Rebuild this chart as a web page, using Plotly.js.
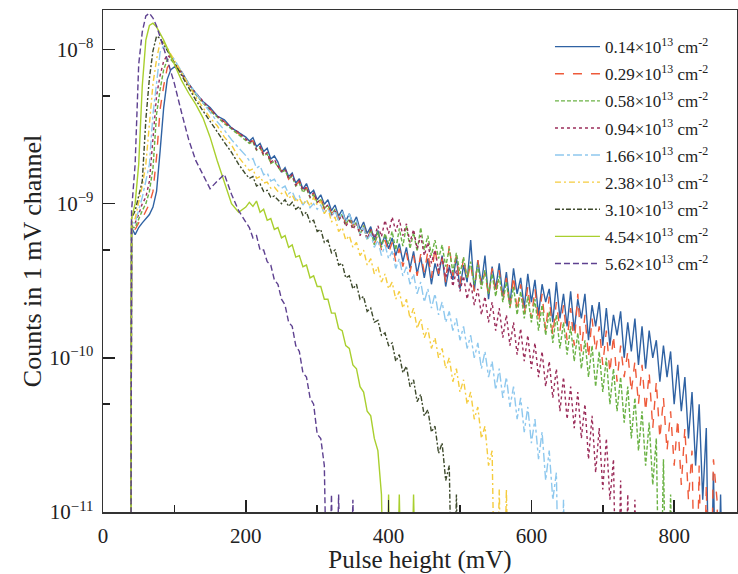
<!DOCTYPE html>
<html>
<head>
<meta charset="utf-8">
<script src="https://cdn.plot.ly/plotly-3.0.1.min.js"></script>
<style>html,body{margin:0;padding:0;background:#fff;}#chart{width:738px;height:574px;}</style>
</head>
<body>
<div id="chart"></div>
<script>
// Pulse height (mV) channels shared by all spectra
const pulseHeight = [39,40,45,50,55,60,65,70,75,80,85,90,95,100,
  110,120,130,140,150,160,170,180,190,200,
  205,210,215,220,225,230,235,240,245,250,
  255,260,265,270,275,280,285,290,295,300,
  305,310,315,320,325,330,335,340,345,350,
  355,360,365,370,375,380,385,390,395,400,
  405,410,415,420,425,430,435,440,445,450,
  455,460,465,470,475,480,485,490,495,500,
  505,510,515,520,525,530,535,540,545,550,
  555,560,565,570,575,580,585,590,595,600,
  605,610,615,620,625,630,635,640,645,650,
  655,660,665,670,675,680,685,690,695,700,
  705,710,715,720,725,730,735,740,745,750,
  755,760,765,770,775,780,785,790,795,800,
  805,810,815,820,825,830,835,840,845,850,
  855,860,865,870];

// Counts in 1 mV channel, in units of 1e-10
const f014 = [0.01,7,6.3,7,7.5,8,8.5,9.5,12,22,42,64,74,77,
  72,60,52,46,42,37,35,31,29,27,
  25.5,26.8,23.4,24.6,21.8,22.9,19.5,20.4,18.6,16.0,
  17.1,15.0,15.8,13.6,14.5,12.4,13.5,11.6,12.2,10.6,
  11.4,9.9,10.6,9.0,9.8,8.3,9.1,7.7,8.6,7.4,
  8.2,6.8,7.6,6.4,7.1,5.8,6.7,5.4,6.2,5.1,
  6.0,4.6,5.5,4.2,5.2,3.8,4.9,3.5,4.5,3.3,
  4.4,3.0,4.1,3.4,4.6,2.9,3.9,3.2,4.5,2.8,
  4.0,3.1,5.8,2.7,4.3,3.0,4.6,2.4,3.9,2.8,
  4.1,2.5,3.6,2.2,3.8,2.6,3.3,2.1,3.5,2.3,
  3.2,1.9,3.0,2.3,2.8,1.7,3.1,1.8,2.6,1.6,
  2.7,1.5,2.4,1.8,2.6,1.3,2.2,1.6,2.3,1.2,
  2.1,1.2,1.9,1.4,2.0,1.0,1.7,1.1,1.8,0.9,
  1.6,0.85,1.5,1.0,1.3,0.7,1.2,0.75,1.1,0.5,
  0.9,0.45,0.75,0.3,0.6,0.2,0.5,0.12,0.35,0.01,
  0.18,0.01,0.13,0.01];
const f029 = [0.01,7.5,6.8,7.5,8,9,10,12,20,41,58,76,83,80,
  71,59,52,45,41,36,34,30,28.5,26,
  24.8,25.6,22.6,23.5,20.8,21.6,18.4,19.2,17.8,16.2,
  16.6,14.4,15.2,13.2,14.0,12.0,12.8,11.0,11.6,10.2,
  10.8,9.4,10.0,8.6,9.4,8.0,8.7,7.4,8.2,7.2,
  7.9,6.4,7.2,6.0,6.8,5.5,6.3,5.0,5.8,4.8,
  5.6,4.2,5.1,3.9,4.8,3.6,4.6,3.4,4.7,3.6,
  4.9,3.3,5.2,3.5,4.4,3.1,5.4,3.4,4.6,3.0,
  4.5,3.2,4.1,2.7,4.3,2.9,3.6,2.5,3.8,2.6,
  3.7,2.3,3.3,2.1,3.4,2.0,3.0,1.9,2.9,1.8,
  2.8,1.7,2.6,1.5,2.5,1.4,2.3,1.5,2.2,1.3,
  2.1,1.2,2.6,1.1,1.9,1.0,1.8,1.1,1.6,0.9,
  1.5,0.8,1.4,0.7,1.2,0.75,1.1,0.6,0.95,0.5,
  0.9,0.45,0.8,0.35,0.7,0.3,0.55,0.25,0.45,0.2,
  0.4,0.15,0.35,0.12,0.25,0.01,0.2,0.01,0.15,0.01,
  0.22,0.12,0.01,0.01];
const f058 = [0.01,7,7,8,9,10,12,17,38,55,74,86,86,81,
  70,59,51,45,40,36.5,33,30.5,28,26,
  24.6,25.2,22.2,23.0,20.4,21.0,18.2,18.8,17.2,16.0,
  16.4,14.6,15.0,13.0,13.6,11.8,12.6,10.9,11.4,10.2,
  10.6,9.3,9.8,8.5,9.2,7.8,8.6,7.3,8.0,7.0,
  7.6,6.3,7.2,5.8,6.8,5.4,6.6,5.2,6.4,5.5,
  6.6,5.0,6.9,5.3,7.2,5.1,6.5,4.9,7.0,5.0,
  6.2,4.6,5.8,4.4,5.4,3.9,5.1,3.6,4.8,3.5,
  4.5,3.3,4.2,3.0,4.0,2.8,3.7,2.6,3.5,2.5,
  3.4,2.3,3.1,2.1,2.9,1.9,2.7,1.8,2.5,1.7,
  2.4,1.5,2.2,1.4,2.0,1.25,1.9,1.15,1.7,1.05,
  1.6,0.95,1.45,0.85,1.3,0.75,1.2,0.65,1.1,0.6,
  1.0,0.5,0.85,0.45,0.75,0.38,0.65,0.3,0.55,0.25,
  0.45,0.2,0.38,0.15,0.3,0.01,0.22,0.01,0.13,0.01];
const f094 = [0.01,7,7.5,8.5,10,11,14,26,50,68,84,92,88,82,
  70,59,52,46,41,37,34,31,29,26.5,
  25.0,25.8,22.4,23.4,20.6,21.4,18.6,19.4,17.4,16.2,
  16.8,14.6,15.4,13.2,14.0,12.2,12.8,11.0,11.8,10.2,
  10.6,9.2,9.8,8.4,9.0,7.8,8.4,7.1,7.8,6.8,
  7.5,6.2,7.0,5.9,6.8,6.0,7.2,6.1,7.8,6.4,
  8.2,6.6,7.9,6.2,7.4,5.6,6.8,5.1,6.2,4.6,
  5.6,4.1,5.0,3.7,4.5,3.3,4.0,2.9,3.7,2.7,
  3.4,2.4,3.1,2.2,2.8,1.9,2.5,1.7,2.3,1.5,
  2.1,1.35,1.9,1.2,1.7,1.05,1.55,0.95,1.4,0.85,
  1.25,0.75,1.1,0.65,0.95,0.55,0.85,0.45,0.75,0.4,
  0.65,0.35,0.6,0.3,0.5,0.22,0.42,0.18,0.35,0.14,
  0.3,0.12,0.22,0.01,0.16,0.01,0.13,0.01,0.12,0.01];
const f166 = [0.01,7.5,7.5,9,11,14,18,38,62,96,106,100,92,86,
  72,60,52,45,39,34,30,26,23,20.5,
  19.0,19.6,17.0,17.6,15.4,15.8,14.0,14.4,13.2,12.6,
  13.0,11.6,12.0,10.6,11.2,9.8,10.6,9.4,10.0,9.2,
  9.8,8.6,9.4,8.2,9.0,7.8,8.9,7.6,8.6,7.4,
  7.8,6.4,7.0,5.8,6.4,5.2,5.8,4.6,5.4,4.4,
  4.9,3.8,4.4,3.4,3.9,3.0,3.5,2.6,3.1,2.3,
  2.8,2.1,2.6,1.9,2.3,1.7,2.0,1.5,1.8,1.3,
  1.6,1.15,1.4,1.0,1.25,0.85,1.1,0.75,0.95,0.62,
  0.85,0.55,0.75,0.48,0.65,0.4,0.55,0.33,0.48,0.28,
  0.4,0.22,0.33,0.16,0.25,0.12,0.18,0.01,0.12,0.01];
const f238 = [0.01,7.5,8,10,13,18,35,60,86,112,112,102,93,85,
  70,58,49,42,36,32,27,24,20,17.5,
  16.4,16.8,14.6,15.0,13.6,13.8,12.6,12.8,12.0,11.6,
  12.0,10.8,11.4,10.2,10.9,9.8,10.6,9.6,11.0,9.8,
  10.4,8.6,9.4,7.6,8.2,6.6,7.0,5.8,6.2,5.2,
  5.6,4.6,5.0,4.0,4.4,3.5,3.9,3.1,3.5,2.8,
  3.1,2.4,2.7,2.1,2.4,1.8,2.1,1.55,1.8,1.35,
  1.55,1.15,1.35,1.0,1.15,0.85,1.0,0.7,0.85,0.6,
  0.72,0.5,0.6,0.4,0.48,0.3,0.36,0.2,0.25,0.01,
  0.14,0.01,0.14,0.01];
const f310 = [0.01,8,9,11,14,35,65,98,122,118,108,100,90,82,
  68,56,47,40,34,29,25,21.5,18,15.5,
  14.6,15.0,13.0,13.4,12.0,12.2,11.0,11.2,10.6,10.0,
  10.6,9.6,10.2,9.2,9.6,8.4,8.8,7.6,7.8,6.6,
  6.8,5.6,5.8,4.8,5.0,4.0,4.1,3.3,3.4,2.8,
  3.0,2.4,2.5,2.0,2.1,1.7,1.75,1.4,1.45,1.2,
  1.25,0.95,1.05,0.8,0.88,0.65,0.72,0.52,0.58,0.42,
  0.46,0.33,0.36,0.24,0.28,0.16,0.2,0.01,0.13,0.01];
const f454 = [0.01,8,10,18,58,115,143,148,140,128,115,102,90,80,
  63,52,44,36,27,19,14,10,8.8,9.5,
  10.2,9.6,10.4,8.8,9.2,7.8,8.0,6.8,7.0,6.0,
  6.2,5.2,5.4,4.5,4.6,3.9,4.0,3.3,3.4,2.9,
  2.9,2.4,2.4,1.95,1.95,1.55,1.5,1.2,1.15,0.9,
  0.85,0.65,0.6,0.45,0.42,0.3,0.25,0.13,0.01,0.13,
  0.01,0.01,0.13,0.01,0.01,0.01,0.13,0.01];
const f562 = [0.01,9,18,80,130,165,172,160,142,122,102,86,72,60,
  39,26,19,15.5,12.5,14,15.5,11.5,9,7.6,
  7.0,6.0,6.2,5.0,5.0,4.2,4.0,3.2,3.0,2.4,
  2.2,1.7,1.6,1.2,1.1,0.8,0.75,0.55,0.5,0.32,
  0.3,0.2,0.01,0.13,0.01,0.13,0.01,0.01,0.01,0.12,
  0.01,0.01];

const seriesNames = ['0.14','0.29','0.58','0.94','1.66','2.38','3.10','4.54','5.62'];
const seriesData = [f014,f029,f058,f094,f166,f238,f310,f454,f562];
const colors = ['#2f62a3','#ee5a3a','#6bb245','#9b2d5a','#8ec8ee','#f5cc3e','#3e4a2c','#a9cf2e','#5e4190'];
const dashes = ['solid','dash','4px,2px','dot','dashdot','6px,3px,2px,3px','5px,2px,2px,2px','solid','6px,3px'];

const unit = 1e-10;
const traces = seriesData.map((d, i) => ({
  x: pulseHeight.slice(0, d.length),
  y: d.map(v => v * unit),
  type: 'scatter',
  mode: 'lines',
  name: seriesNames[i] + '×10<sup>13</sup> cm<sup>-2</sup>',
  legendgroup: 'g' + i,
  line: {color: colors[i], width: 1.4, dash: dashes[i]}
}));

const serif = '"Liberation Serif", "Times New Roman", serif';
const layout = {
  width: 738, height: 574,
  margin: {l: 103, r: 1, t: 10, b: 62},
  paper_bgcolor: '#fff', plot_bgcolor: '#fff',
  font: {family: serif, color: '#222'},
  showlegend: true,
  legend: {
    x: 0.705, y: 0.962, xanchor: 'left', yanchor: 'top',
    bgcolor: 'rgba(0,0,0,0)', font: {family: serif, size: 17, color: '#222'},
    itemwidth: 45, tracegroupgap: 2
  },
  xaxis: {
    range: [0, 888], showgrid: false, zeroline: false,
    showline: true, linecolor: '#333', linewidth: 1.5, mirror: true,
    ticks: 'inside', ticklen: 12, tickwidth: 1.5, tickcolor: '#222',
    tickvals: [0, 200, 400, 600, 800], ticktext: ['0','200','400','600','800'],
    ticklabelstandoff: 4,
    minor: {tickvals: [100, 300, 500, 700], ticks: 'inside', ticklen: 7, tickwidth: 1.5, tickcolor: '#222'},
    tickfont: {family: serif, size: 21, color: '#222'},
    title: {text: 'Pulse height (mV)', font: {family: serif, size: 25, color: '#222'}, standoff: 6}
  },
  yaxis: {
    type: 'log', range: [-11, -7.744], showgrid: false, zeroline: false,
    showline: true, linecolor: '#333', linewidth: 1.5, mirror: true,
    ticks: 'inside', ticklen: 12, tickwidth: 1.5, tickcolor: '#222',
    tickvals: [1e-11, 1e-10, 1e-9, 1e-8],
    ticktext: ['10<sup>−11</sup>','10<sup>−10</sup>','10<sup>−9</sup>','10<sup>−8</sup>'],
    ticklabelstandoff: 4,
    minor: {tickvals: [5e-11, 5e-10, 5e-9], ticks: 'inside', ticklen: 7, tickwidth: 1.5, tickcolor: '#222'},
    tickfont: {family: serif, size: 21, color: '#222'},
    title: {text: 'Counts in 1 mV channel', font: {family: serif, size: 26, color: '#222'}, standoff: 0}
  }
};

Plotly.newPlot('chart', traces, layout, {displayModeBar: false, staticPlot: true});
</script>
</body>
</html>
